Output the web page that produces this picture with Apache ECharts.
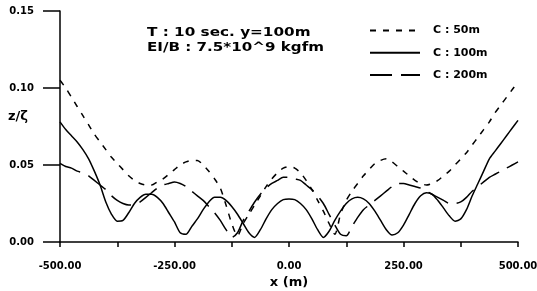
<!DOCTYPE html>
<html>
<head>
<meta charset="utf-8">
<script src="https://cdn.jsdelivr.net/npm/echarts@6/dist/echarts.min.js"></script>
<style>
html, body { margin: 0; padding: 0; background: #fff; }
#chart { width: 537px; height: 291px; }
</style>
</head>
<body>
<div id="chart"></div>
<script>
// x positions (m), one value every 12.5 m
var xs = [-500, -487.5, -475, -462.5, -450, -437.5, -425, -412.5, -400, -387.5,
	-375, -362.5, -350, -337.5, -325, -312.5, -300, -287.5, -275, -262.5,
	-250, -237.5, -225, -212.5, -200, -187.5, -175, -162.5, -150, -137.5,
	-125, -112.5, -100, -87.5, -75, -62.5, -50, -37.5, -25, -12.5,
	0, 12.5, 25, 37.5, 50, 62.5, 75, 87.5, 100, 112.5,
	125, 137.5, 150, 162.5, 175, 187.5, 200, 212.5, 225, 237.5,
	250, 262.5, 275, 287.5, 300, 312.5, 325, 337.5, 350, 362.5,
	375, 387.5, 400, 412.5, 425, 437.5, 450, 462.5, 475, 487.5, 500];

// z/zeta for C : 50m (dashed)
var c50 = [0.105, 0.100, 0.094, 0.088, 0.082, 0.076, 0.070, 0.065, 0.060, 0.055,
	0.051, 0.047, 0.043, 0.040, 0.038, 0.037, 0.037, 0.039, 0.041, 0.044,
	0.047, 0.050, 0.052, 0.053, 0.053, 0.050, 0.046, 0.041, 0.035, 0.024,
	0.012, 0.004, 0.012, 0.018, 0.024, 0.030, 0.036, 0.041, 0.045, 0.048,
	0.049, 0.048, 0.045, 0.040, 0.034, 0.027, 0.020, 0.012, 0.005, 0.018,
	0.027, 0.033, 0.038, 0.043, 0.047, 0.051, 0.053, 0.054, 0.052, 0.049,
	0.046, 0.043, 0.040, 0.038, 0.037, 0.038, 0.040, 0.043, 0.046, 0.050,
	0.054, 0.058, 0.063, 0.068, 0.073, 0.078, 0.084, 0.089, 0.094, 0.099, 0.104];

// C : 100m (solid)
var c100 = [0.078, 0.073, 0.069, 0.065, 0.060, 0.054, 0.046, 0.037, 0.026, 0.018,
	0.0135, 0.014, 0.019, 0.025, 0.029, 0.031, 0.031, 0.029, 0.025, 0.019,
	0.013, 0.006, 0.005, 0.010, 0.015, 0.021, 0.026, 0.029, 0.029, 0.027,
	0.023, 0.018, 0.012, 0.006, 0.003, 0.008, 0.015, 0.021, 0.025, 0.0275,
	0.028, 0.0275, 0.025, 0.021, 0.015, 0.008, 0.003, 0.007, 0.014, 0.020,
	0.025, 0.028, 0.029, 0.028, 0.025, 0.020, 0.014, 0.008, 0.0045, 0.006,
	0.011, 0.018, 0.025, 0.030, 0.032, 0.031, 0.027, 0.022, 0.017, 0.0135,
	0.015, 0.021, 0.030, 0.038, 0.046, 0.054, 0.059, 0.064, 0.069, 0.074, 0.079];

// C : 200m (long dash)
var c200 = [0.051, 0.049, 0.048, 0.046, 0.045, 0.043, 0.040, 0.037, 0.034, 0.030,
	0.027, 0.025, 0.024, 0.024, 0.026, 0.029, 0.032, 0.035, 0.037, 0.038,
	0.039, 0.038, 0.036, 0.033, 0.030, 0.027, 0.023, 0.019, 0.014, 0.008,
	0.003, 0.006, 0.014, 0.020, 0.026, 0.031, 0.035, 0.038, 0.040, 0.042,
	0.042, 0.041, 0.040, 0.037, 0.034, 0.030, 0.025, 0.018, 0.011, 0.005,
	0.004, 0.010, 0.016, 0.021, 0.024, 0.027, 0.030, 0.033, 0.036, 0.038,
	0.038, 0.037, 0.036, 0.035, 0.033, 0.031, 0.029, 0.027, 0.025, 0.025,
	0.026, 0.029, 0.033, 0.036, 0.039, 0.042, 0.044, 0.046, 0.048, 0.050, 0.052];

var seriesNames = ['C : 50m', 'C : 100m', 'C : 200m'];
var dashes = [[6, 7], 'solid', [22, 9]];
var values = [c50, c100, c200];

var FONT = 'DejaVu Sans';

function pairs(ys) {
	var out = [];
	for (var i = 0; i < xs.length; i++) {
		out.push([xs[i], ys[i]]);
	}
	return out;
}

var myChart = echarts.init(document.getElementById('chart'), null, {renderer: 'canvas'});

var series = [];
for (var k = 0; k < seriesNames.length; k++) {
	series.push({
		name: seriesNames[k],
		type: 'line',
		data: pairs(values[k]),
		showSymbol: false,
		symbol: 'none',
		smooth: 0.25,
		itemStyle: {color: '#000'},
		lineStyle: {color: '#000', width: 1.5, type: dashes[k]}
	});
}

option = {
	animation: false,
	backgroundColor: '#fff',
	grid: {left: 60, right: 19, top: 11, bottom: 49, outerBoundsMode: 'none'},
	legend: {
		orient: 'vertical',
		left: 364,
		top: 20,
		itemWidth: 50,
		itemHeight: 14,
		itemGap: 11,
		data: seriesNames,
		itemStyle: {opacity: 0},
		textStyle: {fontFamily: FONT, fontWeight: 'bold', fontSize: 11, color: '#000', padding: [0, 0, 0, 8]}
	},
	xAxis: {
		type: 'value',
		min: -500,
		max: 500,
		interval: 250,
		name: 'x (m)',
		nameLocation: 'middle',
		nameGap: 29,
		nameTextStyle: {fontFamily: FONT, fontWeight: 'bold', fontSize: 13, color: '#000'},
		axisLine: {lineStyle: {color: '#000', width: 1.5}},
		axisTick: {length: 5, lineStyle: {color: '#000', width: 1.5}},
		minorTick: {show: true, splitNumber: 2, length: 5, lineStyle: {color: '#000', width: 1.5}},
		splitLine: {show: false},
		axisLabel: {
			margin: 19,
			fontFamily: FONT, fontWeight: 'bold', fontSize: 10, color: '#000',
			formatter: function(v) { return v.toFixed(2); }
		}
	},
	yAxis: {
		type: 'value',
		min: 0,
		max: 0.15,
		interval: 0.05,
		axisLine: {show: true, onZero: false, lineStyle: {color: '#000', width: 1.5}},
		axisTick: {show: true, length: 17, lineStyle: {color: '#000', width: 1.5}},
		splitLine: {show: false},
		axisLabel: {
			margin: 26,
			fontFamily: FONT, fontWeight: 'bold', fontSize: 10, color: '#000',
			formatter: function(v) { return v.toFixed(2); }
		}
	},
	graphic: [
		{type: 'text', left: 8, top: 110, style: {text: 'z/ζ', font: 'bold 13px "DejaVu Sans"', fill: '#000'}},
		{type: 'text', left: 147, top: 27, scaleX: 1.27, style: {text: 'T : 10 sec. y=100m', font: 'bold 12px "DejaVu Sans"', fill: '#000'}},
		{type: 'text', left: 147, top: 42, scaleX: 1.26, style: {text: 'EI/B : 7.5*10^9 kgfm', font: 'bold 12px "DejaVu Sans"', fill: '#000'}}
	],
	series: series
};
myChart.setOption(option);
</script>
</body>
</html>
